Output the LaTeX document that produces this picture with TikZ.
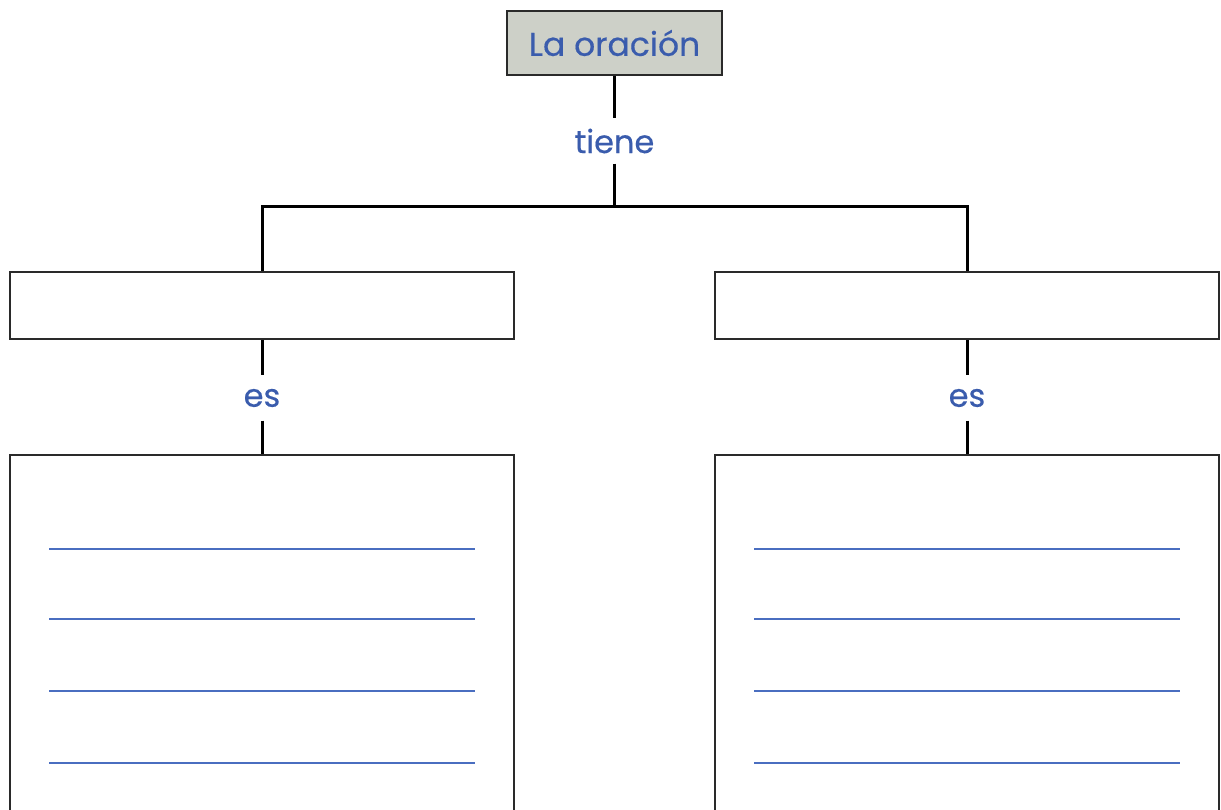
\documentclass[tikz,border=0pt]{standalone}
\usepackage{fontspec}
\setmainfont{Poppins}
\newfontfamily\lblfont{Poppins}[FakeBold=0.4]
\definecolor{boxgray}{HTML}{CDD0C8}
\definecolor{txtblue}{HTML}{3A5CAD}
\definecolor{ruleblue}{HTML}{4A6EC0}
\definecolor{edge}{HTML}{2A2A2A}
\tikzset{
  topbox/.style={draw=edge, line width=2.5pt, fill=boxgray, minimum width=215, minimum height=64, inner sep=0pt, text=txtblue, font=\lblfont\fontsize{33}{36}\selectfont},
  midbox/.style={draw=edge, line width=2.5pt, fill=white, minimum width=504, minimum height=67, inner sep=0pt},
  bigbox/.style={draw=edge, line width=2.5pt, fill=white, minimum width=504, minimum height=380, inner sep=0pt},
  lbl/.style={minimum height=45, inner sep=0pt, text=txtblue, font=\lblfont\fontsize{32}{36}\selectfont},
  conn/.style={draw=black, line width=3pt},
  ruled/.style={draw=ruleblue, line width=2.5pt}
}
\begin{document}
\begin{tikzpicture}[x=1pt,y=-1pt]
\clip (0,0) rectangle (1221,810);
\fill[white] (0,0) rectangle (1221,810);
\node[topbox] (top) at (614.5,43) {La oración};
\node[lbl] (tiene) at (614.5,141) {tiene};
\coordinate (j) at (614.5,207);
\node[midbox] (m1) at (262,305.5) {};
\node[midbox] (m2) at (967,305.5) {};
\node[lbl] (es1) at (262,398) {es};
\node[lbl] (es2) at (967,398) {es};
\node[bigbox] (b1) at (262,645) {};
\node[bigbox] (b2) at (967,645) {};
\draw[conn] (top.south) -- (tiene.north);
\draw[conn] (tiene.south) -- (j);
\draw[conn] (m1.north) |- (j) -| (m2.north);
\draw[conn] (m1.south) -- (es1.north);
\draw[conn] (es1.south) -- (b1.north);
\draw[conn] (m2.south) -- (es2.north);
\draw[conn] (es2.south) -- (b2.north);
\foreach \y in {549,619,691,763} {
  \draw[ruled] (49,\y) -- (475,\y);
  \draw[ruled] (754,\y) -- (1180,\y);
}
\end{tikzpicture}
\end{document}
